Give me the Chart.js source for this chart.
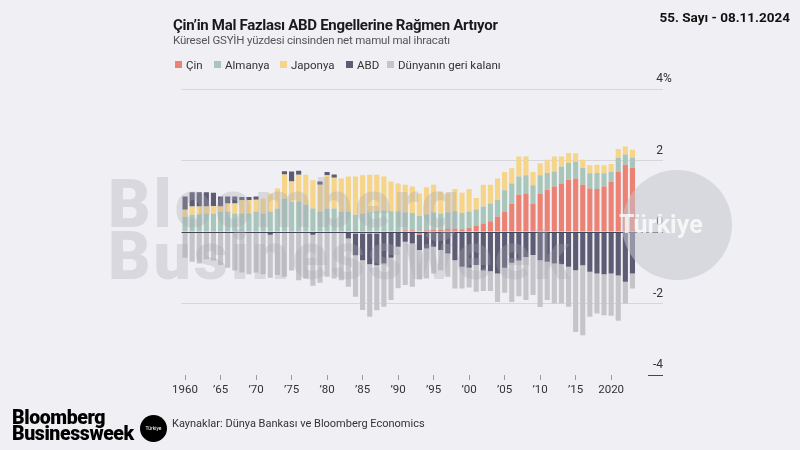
<!DOCTYPE html>
<html>
<head>
<meta charset="utf-8">
<script src="https://cdn.jsdelivr.net/npm/chart.js@4.4.1/dist/chart.umd.min.js"></script>
<style>
  html, body { margin: 0; padding: 0; }
  body { width: 800px; height: 450px; background: #efeff4; position: relative; overflow: hidden; font-family: Roboto, "Liberation Sans", sans-serif; color: #222; }
  canvas { position: absolute; left: 0; top: 0; }
  .t { position: absolute; white-space: nowrap; transform-origin: left top; }
  #title { left: 173px; top: 16px; font-size: 15px; font-weight: 700; letter-spacing: -0.3px; color: #1a1a1a; }
  #subtitle { left: 173px; top: 33px; font-size: 11.5px; color: #555; letter-spacing: -0.2px; }
  #issue { right: 10px; top: 9px; font-size: 13.5px; font-weight: 700; color: #111; }
  .leg { position: absolute; top: 58px; font-size: 11.5px; color: #333; white-space: nowrap; }
  .sw { position: absolute; top: 61px; width: 7px; height: 7px; }
  #logo { left: 12px; top: 410px; font-size: 19.5px; font-weight: 900; line-height: 15.5px; color: #000; letter-spacing: -0.4px; }
  #badge { position: absolute; left: 140px; top: 415px; width: 27px; height: 27px; border-radius: 50%; background: #000; color: #fff; font-size: 5px; line-height: 27px; text-align: center; }
  #source { left: 172px; top: 417px; font-size: 11px; color: #333; }
  .wm { position: absolute; white-space: nowrap; font-weight: 900; color: rgba(168,168,178,0.32); pointer-events: none; letter-spacing: 3px; }
  #wm1 { left: 108px; top: 166px; font-size: 66px; }
  #wm2 { left: 108px; top: 218px; font-size: 66px; }
  #circle { position: absolute; left: 622px; top: 170px; width: 110px; height: 110px; border-radius: 50%; background: rgba(196,196,205,0.55); }
  #wm3 { position: absolute; left: 619px; top: 210px; font-size: 25px; font-weight: 700; color: rgba(255,255,255,0.75); }
</style>
</head>
<body>
<canvas id="chart" width="800" height="450"></canvas>

<div class="t" id="title">Çin’in Mal Fazlası ABD Engellerine Rağmen Artıyor</div>
<div class="t" id="subtitle">Küresel GSYİH yüzdesi cinsinden net mamul mal ihracatı</div>
<div class="t" id="issue">55. Sayı - 08.11.2024</div>
<div id="legend"></div>

<div class="wm" id="wm1">Bloomberg</div>
<div class="wm" id="wm2">Businessweek</div>
<div id="circle"></div>
<div id="wm3">Türkiye</div>

<div class="t" id="logo">Bloomberg<br>Businessweek</div>
<div id="badge">Türkiye</div>
<div class="t" id="source">Kaynaklar: Dünya Bankası ve Bloomberg Economics</div>

<script>
// Yıllar
const years = [
  1960, 1961, 1962, 1963, 1964, 1965, 1966, 1967, 1968, 1969,
  1970, 1971, 1972, 1973, 1974, 1975, 1976, 1977, 1978, 1979,
  1980, 1981, 1982, 1983, 1984, 1985, 1986, 1987, 1988, 1989,
  1990, 1991, 1992, 1993, 1994, 1995, 1996, 1997, 1998, 1999,
  2000, 2001, 2002, 2003, 2004, 2005, 2006, 2007, 2008, 2009,
  2010, 2011, 2012, 2013, 2014, 2015, 2016, 2017, 2018, 2019,
  2020, 2021, 2022, 2023
];

// Küresel GSYİH yüzdesi (resimden okunan tahmini değerler)
const cin = [
  0, 0, 0, 0, 0, 0, 0, 0, 0, 0,
  0, 0, 0, 0, 0, 0, 0, 0, 0, 0,
  0, 0, 0, 0, -0.05, -0.05, -0.05, -0.05, -0.03, -0.03,
  0.03, 0.05, 0.05, -0.08, 0.05, 0.07, 0.07, 0.1, 0.1, 0.08,
  0.12, 0.18, 0.24, 0.3, 0.43, 0.57, 0.8, 1.04, 1.08, 0.8,
  1.08, 1.18, 1.27, 1.36, 1.46, 1.5, 1.32, 1.22, 1.2, 1.27,
  1.4, 1.68, 1.88, 1.8
];
const almanya = [
  0.43, 0.48, 0.5, 0.52, 0.52, 0.57, 0.57, 0.52, 0.52, 0.52,
  0.57, 0.52, 0.57, 0.66, 0.94, 0.85, 0.85, 0.76, 0.66, 0.57,
  0.66, 0.66, 0.57, 0.57, 0.48, 0.52, 0.55, 0.58, 0.6, 0.58,
  0.55, 0.5, 0.48, 0.45, 0.45, 0.48, 0.45, 0.45, 0.48, 0.45,
  0.45, 0.45, 0.47, 0.5, 0.47, 0.6, 0.56, 0.51, 0.51, 0.51,
  0.51, 0.47, 0.42, 0.47, 0.47, 0.47, 0.47, 0.42, 0.45, 0.37,
  0.28, 0.4, 0.29, 0.28
];
const japonya = [
  0.19, 0.23, 0.21, 0.19, 0.21, 0.14, 0.23, 0.28, 0.37, 0.37,
  0.33, 0.42, 0.51, 0.56, 0.67, 0.56, 0.75, 0.84, 0.79, 0.75,
  0.93, 0.86, 0.93, 0.98, 1.07, 1.07, 1.05, 1.02, 0.95, 0.83,
  0.78, 0.77, 0.74, 0.63, 0.75, 0.77, 0.61, 0.55, 0.62, 0.57,
  0.63, 0.32, 0.61, 0.52, 0.6, 0.51, 0.42, 0.56, 0.52, 0.37,
  0.33, 0.37, 0.42, 0.28, 0.28, 0.23, 0.23, 0.23, 0.23, 0.23,
  0.22, 0.24, 0.22, 0.22
];
const abd = [
  0.37, 0.4, 0.4, 0.4, 0.37, 0.28, 0.19, 0.19, 0.09, 0.09,
  0.09, 0, -0.08, 0, 0.09, 0.28, 0.11, 0, -0.08, 0.09,
  0.09, 0.09, 0, -0.18, -0.6, -0.74, -0.85, -0.88, -0.85, -0.69,
  -0.41, -0.27, -0.32, -0.42, -0.46, -0.41, -0.5, -0.6, -0.79, -0.97,
  -1.0, -0.92, -1.08, -1.1, -1.16, -1.0, -0.86, -0.8, -0.7, -0.64,
  -0.79, -0.83, -0.88, -0.9, -0.97, -1.07, -0.93, -1.11, -1.16, -1.18,
  -1.16, -1.22, -1.39, -1.16
];
const dunya = [
  -0.72, -0.83, -0.88, -0.76, -0.8, -0.92, -1.0, -1.08, -1.13, -1.18,
  -1.13, -1.18, -1.2, -1.2, -1.25, -1.08, -1.35, -1.3, -1.42, -1.42,
  -1.25, -1.3, -1.35, -1.35, -1.16, -1.39, -1.47, -1.26, -1.21, -1.18,
  -1.16, -1.21, -1.21, -0.83, -0.84, -0.75, -0.57, -0.65, -0.79, -0.61,
  -0.55, -0.75, -0.57, -0.55, -0.8, -0.7, -1.1, -1.0, -1.2, -1.12,
  -1.31, -1.07, -1.12, -1.1, -1.12, -1.73, -1.96, -1.26, -1.12, -1.15,
  -1.18, -1.26, -0.61, -0.42
];

const seriesNames = ["Çin", "Almanya", "Japonya", "ABD", "Dünyanın geri kalanı"];
const seriesColors = ["#ec8274", "#a9c6ba", "#f6d488", "#5e5c74", "#c4c4c9"];
const seriesData = [cin, almanya, japonya, abd, dunya];

// Eksen etiketleri
const xTickYears = [1960, 1965, 1970, 1975, 1980, 1985, 1990, 1995, 2000, 2005, 2010, 2015, 2020];
const xTickLabels = ["1960", "’65", "’70", "’75", "’80", "’85", "’90", "’95", "’00", "’05", "’10", "’15", "2020"];
const yTickValues = [4, 2, 0, -2, -4];
const yTickLabels = ["4", "2", "0", "-2", "-4"];

// Lejant (HTML)
const legendPos = [175, 214, 280, 346, 387];
const legend = document.getElementById("legend");
seriesNames.forEach((name, i) => {
  const sw = document.createElement("div");
  sw.className = "sw";
  sw.style.left = legendPos[i] + "px";
  sw.style.background = seriesColors[i];
  legend.appendChild(sw);
  const lb = document.createElement("div");
  lb.className = "leg";
  lb.style.left = (legendPos[i] + 11) + "px";
  lb.textContent = name;
  legend.appendChild(lb);
});

// Sıfır çizgisi, -4 çizgisi ve sağdaki y etiketleri
const overlay = {
  id: "overlay",
  afterDatasetsDraw(chart) {
    const { ctx, chartArea, scales: { y } } = chart;
    ctx.save();
    ctx.strokeStyle = "#45455a";
    ctx.lineWidth = 1;
    const y0 = Math.round(y.getPixelForValue(0)) + 0.5;
    ctx.beginPath();
    ctx.moveTo(chartArea.left, y0);
    ctx.lineTo(chartArea.right, y0);
    ctx.stroke();
    const yb = Math.round(y.getPixelForValue(-4)) + 0.5;
    ctx.beginPath();
    ctx.moveTo(chartArea.right - 15, yb);
    ctx.lineTo(chartArea.right, yb);
    ctx.stroke();

    ctx.font = "12px Roboto";
    ctx.fillStyle = "#333";
    ctx.textBaseline = "middle";
    yTickValues.forEach((v, i) => {
      const py = y.getPixelForValue(v) - 10;
      ctx.textAlign = "right";
      ctx.fillText(yTickLabels[i], chartArea.right, py);
      if (i === 0) {
        ctx.textAlign = "left";
        ctx.fillText("%", chartArea.right, py);
      }
    });
    ctx.restore();
  }
};

const datasets = seriesNames.map((name, i) => ({
  label: name,
  data: years.map((yr, j) => ({ x: yr, y: seriesData[i][j] })),
  backgroundColor: seriesColors[i],
  borderWidth: 0,
  barPercentage: 0.72,
  categoryPercentage: 1
}));

new Chart(document.getElementById("chart"), {
  type: "bar",
  data: { datasets },
  plugins: [overlay],
  options: {
    responsive: false,
    animation: false,
    devicePixelRatio: 1,
    layout: { padding: { left: 181.5, right: 137, top: 89, bottom: 50 } },
    plugins: { legend: { display: false }, tooltip: { enabled: false } },
    scales: {
      x: {
        type: "linear",
        stacked: true,
        offset: false,
        min: 1959.5,
        max: 2027.3,
        afterBuildTicks: s => { s.ticks = xTickYears.map(v => ({ value: v })); },
        afterFit: s => { s.height = 25; },
        border: { display: false },
        grid: { drawOnChartArea: false, drawTicks: true, tickLength: 5, tickColor: "#9a9aa2", offset: false },
        ticks: {
          autoSkip: false,
          maxRotation: 0,
          padding: 3,
          color: "#333",
          font: { family: "Roboto", size: 11.5 },
          callback: v => xTickLabels[xTickYears.indexOf(v)]
        }
      },
      y: {
        stacked: true,
        position: "right",
        min: -4,
        max: 4,
        afterFit: s => { s.width = 0; },
        border: { display: false },
        grid: {
          drawTicks: false,
          color: c => (c.tick.value === 4 || c.tick.value === 2 || c.tick.value === -2) ? "#d6d6dd" : "rgba(0,0,0,0)"
        },
        ticks: { display: false, stepSize: 2 }
      }
    }
  }
});
</script>
</body>
</html>
